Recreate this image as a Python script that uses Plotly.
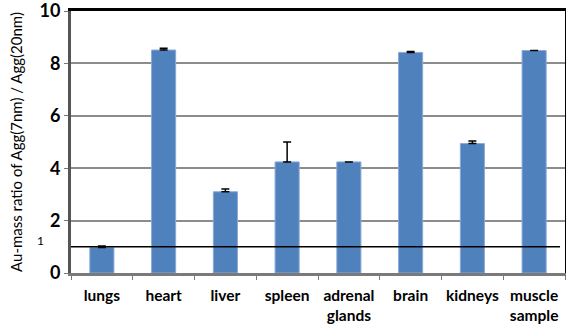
import plotly.graph_objects as go

categories = ["lungs", "heart", "liver", "spleen", "adrenal<br>glands", "brain", "kidneys", "muscle<br>sample"]
values = [0.97, 8.51, 3.10, 4.24, 4.24, 8.42, 4.94, 8.49]
err_plus = [0.06, 0.07, 0.11, 0.76, None, 0.03, 0.10, None]
y_ticks = [0, 2, 4, 6, 8, 10]
y_max = 10
ref_level = 1

err_minus = [None if e is None else 0 for e in err_plus]

fig = go.Figure()
fig.add_trace(go.Bar(
    x=categories, y=values,
    marker=dict(color="#4F81BD", line=dict(color="#8aaad6", width=1)),
    error_y=dict(type="data", array=err_plus, arrayminus=err_minus,
                 symmetric=False, color="black", thickness=1.5, width=4),
    width=0.39,
))
# invisible helper trace for the frame axes (top / right border)
fig.add_trace(go.Scatter(x=[0, 1], y=[0, y_max], xaxis="x2", yaxis="y2",
                         mode="markers", marker=dict(opacity=0), hoverinfo="skip"))

fig.add_shape(type="line", xref="paper", yref="y", x0=0, x1=0.99, y0=ref_level, y1=ref_level,
              line=dict(color="black", width=1.5))
fig.add_annotation(xref="paper", yref="y", x=0, y=ref_level, text=str(ref_level),
                   showarrow=False, xanchor="right", xshift=-25, yshift=6,
                   font=dict(family="Lato", size=12, color="black"))

fig.update_layout(
    width=567, height=327,
    margin=dict(l=71, r=2, t=11, b=54, autoexpand=False),
    plot_bgcolor="white", paper_bgcolor="white",
    showlegend=False,
    font=dict(family="Lato", color="black"),
    xaxis=dict(
        showline=True, linecolor="#7a7a7a", linewidth=3,
        ticks="outside", tickson="boundaries", ticklen=4, tickcolor="#7a7a7a", tickwidth=1,
        tickfont=dict(family="Lato", size=15.5, color="black", weight="bold"),
        tickangle=0, automargin=False,
        ticklabelstandoff=6,
        range=[-0.5, 7.5],
    ),
    yaxis=dict(
        range=[0, y_max], tickvals=y_ticks, automargin=False,
        ticklabeloverflow="allow",
        showgrid=True, gridcolor="#8c8c8c", gridwidth=1.5,
        showline=True, linecolor="#555555", linewidth=3,
        ticks="outside", ticklen=4, tickcolor="#777777",
        tickfont=dict(family="Lato", size=18, color="black", weight="bold"),
        title=dict(text="Au-mass ratio of Agg(7nm) / Agg(20nm)", standoff=14,
                   font=dict(family="Lato", size=15, color="black")),
        zeroline=False,
    ),
    xaxis2=dict(overlaying="x", side="top", range=[0, 1], showline=True,
                linecolor="black", linewidth=2.5, showticklabels=False,
                showgrid=False, zeroline=False, ticks=""),
    yaxis2=dict(overlaying="y", side="right", range=[0, y_max], showline=True,
                linecolor="black", linewidth=1, showticklabels=False,
                showgrid=False, zeroline=False, ticks=""),
)
fig.write_html("out.html", config={"displayModeBar": False},
               post_script="document.body.style.margin='0';")
